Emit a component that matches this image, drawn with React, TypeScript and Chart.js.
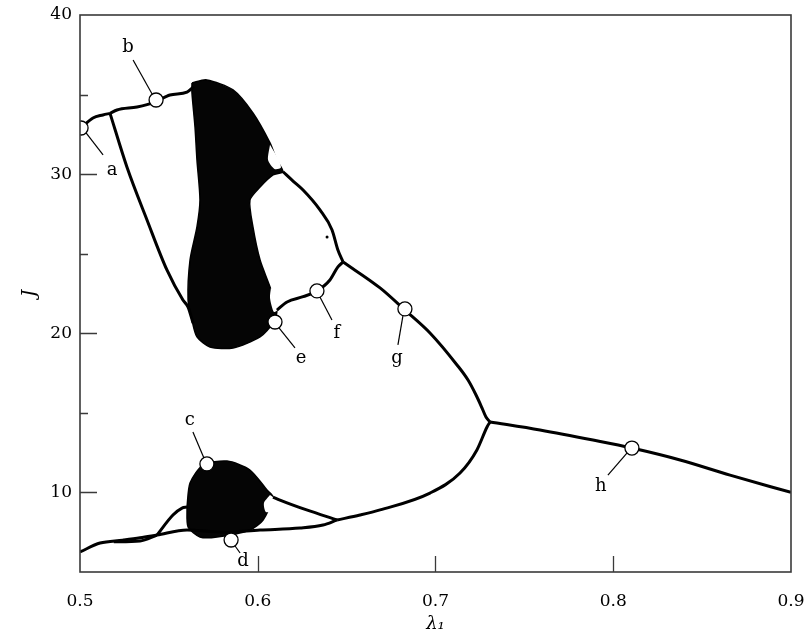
import React, { useEffect, useRef } from 'react';
import { Chart, registerables } from 'chart.js';

Chart.register(...registerables);

// ---- axis ticks ----
const xTickValues = [0.5, 0.6, 0.7, 0.8, 0.9];
const xInnerTicks = [0.6, 0.7, 0.8];
const yTickValues = [10, 20, 30, 40];
const yInnerMajor = [10, 20, 30];
const yInnerMinor = [15, 25, 35];

// ---- bifurcation branches (lambda1, J) ----
const upperStem = [[0.5006, 32.9], [0.5073, 33.53], [0.5129, 33.72], [0.5169, 33.82]];
const upperTop = [[0.5169, 33.82], [0.5208, 34.03], [0.5321, 34.22], [0.5422, 34.53], [0.5506, 34.97], [0.5602, 35.16], [0.564, 35.5]];
const upperDrop = [[0.5169, 33.82], [0.5264, 30.45], [0.5377, 27.12], [0.5489, 23.98], [0.5579, 22.09], [0.5608, 21.65], [0.5636, 20.65]];
const upperRight = [[0.6142, 30.15], [0.62, 29.55], [0.6255, 29.0], [0.635, 27.75], [0.6418, 26.49], [0.6451, 25.23], [0.648, 24.48]];
const midRight = [[0.6108, 21.46], [0.6165, 21.97], [0.6255, 22.3], [0.6333, 22.66], [0.6406, 23.35], [0.6451, 24.17], [0.648, 24.48]];
const gBranch = [[0.648, 24.48], [0.6688, 22.85], [0.6828, 21.46], [0.6969, 20.02], [0.7121, 18.01], [0.7183, 17.06], [0.7228, 16.12], [0.7262, 15.3], [0.7284, 14.74], [0.7307, 14.43]];
const hBranch = [[0.7307, 14.43], [0.7588, 13.92], [0.7886, 13.29], [0.8105, 12.79], [0.8376, 12.04], [0.8657, 11.09], [0.9, 10.0]];
const lowerRise = [[0.6446, 8.27], [0.6575, 8.58], [0.6688, 8.9], [0.6969, 9.96], [0.7138, 11.22], [0.7233, 12.67], [0.729, 14.11], [0.7307, 14.43]];
const lowerStart = [[0.5, 6.26], [0.5113, 6.82], [0.524, 7.0], [0.5338, 7.15], [0.5433, 7.32]];
const lowerLens = [[0.519, 6.9], [0.5338, 6.95], [0.5433, 7.32]];
const lowerPeak = [[0.5433, 7.32], [0.5523, 8.58], [0.5574, 9.02], [0.5602, 9.08]];
const lowerFloor = [[0.5433, 7.32], [0.5602, 7.64], [0.58, 7.5], [0.6013, 7.64], [0.6238, 7.76], [0.6367, 7.95], [0.6446, 8.27]];
const lowerUpper = [[0.6086, 9.71], [0.6125, 9.52], [0.6275, 8.9], [0.6446, 8.27]];

// ---- chaotic bands (outlines) ----
const upperChaos = [
  [0.563, 35.73], [0.5713, 35.92], [0.5861, 35.29], [0.5973, 33.84], [0.6069, 31.96], [0.6107, 30.89], [0.6142, 30.15],
  [0.6086, 29.95], [0.6013, 29.19], [0.5956, 28.37], [0.5973, 26.68], [0.6013, 24.6], [0.6069, 22.91], [0.6108, 21.46],
  [0.6086, 20.65], [0.6013, 19.77], [0.5861, 19.08], [0.5731, 19.14], [0.5658, 19.77], [0.563, 20.83], [0.5608, 22.09],
  [0.5619, 24.6], [0.5658, 26.68], [0.5675, 28.37], [0.5658, 30.89], [0.5647, 32.96], [0.563, 35.1], [0.563, 35.73],
];
const lowerChaos = [
  [0.5602, 9.08], [0.5619, 10.59], [0.5692, 11.72], [0.5827, 11.97], [0.5956, 11.41], [0.6052, 10.15], [0.6086, 9.71],
  [0.603, 8.27], [0.5956, 7.64], [0.5771, 7.2], [0.5675, 7.2], [0.5608, 7.83], [0.5602, 9.08],
];
const upperGap = [[0.6069, 31.85], [0.6118, 30.89], [0.613, 30.4], [0.6094, 30.33], [0.6058, 30.89], [0.6069, 31.85]];
const middleGap = [[0.6075, 22.91], [0.6103, 22.22], [0.6114, 21.53], [0.6091, 21.34], [0.6069, 22.22], [0.6075, 22.91]];
const lowerGap = [[0.6069, 9.84], [0.6103, 9.52], [0.6091, 8.9], [0.6046, 8.77], [0.6035, 9.34], [0.6069, 9.84]];
const strayPoints = [[0.639, 26.05]];

// ---- marked states ----
const markerNames = ['a', 'b', 'c', 'd', 'e', 'f', 'g', 'h'];
const markerPoints = [[0.5006, 32.9], [0.5428, 34.66], [0.5714, 11.79], [0.585, 7.01], [0.6097, 20.71], [0.6333, 22.66], [0.6828, 21.53], [0.8105, 12.79]];

// label leader layout (pixel offsets from marker centre): [fromX, fromY, toX, toY, textX, textY]
const leaderLayout: Record<string, number[]> = {
  a: [5, 5, 22, 27, 31, 42],
  b: [-4, -6, -23, -40, -28, -53],
  c: [-3, -6, -14, -32, -17, -44],
  d: [4, 6, 9, 13, 12, 21],
  e: [4, 6, 20, 26, 26, 36],
  f: [3, 6, 15, 29, 20, 42],
  g: [-2, 7, -7, 36, -8, 49],
  h: [-5, 5, -24, 27, -31, 38],
};

const FONT = "'DejaVu Serif', 'Liberation Serif', serif";
const toXY = (pts: number[][]) => pts.map(([x, y]) => ({ x, y }));

const curve = (pts: number[][]) => ({
  data: toXY(pts),
  showLine: true,
  pointRadius: 0,
  borderColor: '#000',
  borderWidth: 3,
  cubicInterpolationMode: 'monotone',
  fill: false,
  order: 2,
});
const region = (pts: number[][], color: string, order: number, bw: number) => ({
  data: toXY(pts),
  showLine: true,
  pointRadius: 0,
  borderColor: bw > 0 ? '#000' : 'rgba(0,0,0,0)',
  borderWidth: bw,
  backgroundColor: color,
  tension: 0.25,
  fill: 'shape',
  order,
});

const framePlugin = {
  id: 'frameTicks',
  afterDatasetsDraw(chart: any) {
    const { ctx, scales } = chart;
    const xs = scales.x, ys = scales.y;
    ctx.save();
    ctx.strokeStyle = '#000';
    ctx.lineWidth = 1.2;
    ctx.fillStyle = '#000';
    ctx.font = `18px ${FONT}`;
    ctx.textAlign = 'center';
    ctx.textBaseline = 'middle';
    markerNames.forEach((n, i) => {
      const px = xs.getPixelForValue(markerPoints[i][0]);
      const py = ys.getPixelForValue(markerPoints[i][1]);
      const L = leaderLayout[n];
      ctx.beginPath();
      ctx.moveTo(px + L[0], py + L[1]);
      ctx.lineTo(px + L[2], py + L[3]);
      ctx.stroke();
      ctx.fillText(n, px + L[4], py + L[5]);
    });
    ctx.restore();
  },
  afterDraw(chart: any) {
    const { ctx, chartArea: a, scales } = chart;
    const xs = scales.x, ys = scales.y;
    ctx.save();
    ctx.strokeStyle = '#3a3a3a';
    ctx.lineWidth = 1.6;
    ctx.strokeRect(a.left, a.top, a.right - a.left, a.bottom - a.top);
    ctx.lineWidth = 1.3;
    ctx.beginPath();
    yInnerMajor.forEach((v) => {
      const y = Math.round(ys.getPixelForValue(v)) + 0.5;
      ctx.moveTo(a.left, y);
      ctx.lineTo(a.left + 17, y);
    });
    yInnerMinor.forEach((v) => {
      const y = Math.round(ys.getPixelForValue(v)) + 0.5;
      ctx.moveTo(a.left, y);
      ctx.lineTo(a.left + 8, y);
    });
    xInnerTicks.forEach((v) => {
      const x = Math.round(xs.getPixelForValue(v)) + 0.5;
      ctx.moveTo(x, a.bottom);
      ctx.lineTo(x, a.bottom - 16);
    });
    ctx.stroke();
    ctx.restore();
  },
};

export default function App() {
  const ref = useRef<HTMLCanvasElement>(null);
  useEffect(() => {
    document.body.style.margin = '0';
    if (!ref.current) return;
    const datasets: any[] = [
      region(upperChaos, '#050505', 5, 1.5),
      region(lowerChaos, '#050505', 5, 1.5),
      region(upperGap, '#fff', 4, 0),
      region(middleGap, '#fff', 4, 0),
      region(lowerGap, '#fff', 4, 0),
      curve(upperStem),
      curve(upperTop),
      curve(upperDrop),
      curve(upperRight),
      curve(midRight),
      curve(gBranch),
      curve(hBranch),
      curve(lowerRise),
      curve(lowerStart),
      curve(lowerLens),
      curve(lowerPeak),
      curve(lowerFloor),
      curve(lowerUpper),
      {
        data: toXY(strayPoints),
        pointRadius: 1.5,
        pointBackgroundColor: '#000',
        pointBorderWidth: 0,
        showLine: false,
        order: 2,
      },
      {
        data: toXY(markerPoints),
        showLine: false,
        pointRadius: 7,
        pointBackgroundColor: '#fff',
        pointBorderColor: '#000',
        pointBorderWidth: 1.3,
        order: 0,
      },
    ];
    const chart = new Chart(ref.current, {
      type: 'scatter',
      data: { datasets },
      options: {
        animation: false,
        responsive: false,
        devicePixelRatio: 1,
        layout: { padding: { top: 15, right: 15, left: 0, bottom: 0 } },
        plugins: { legend: { display: false }, tooltip: { enabled: false } },
        scales: {
          x: {
            type: 'linear',
            min: 0.5,
            max: 0.9,
            grid: { display: false, drawTicks: false },
            border: { display: false },
            afterBuildTicks: (s: any) => { s.ticks = xTickValues.map((v) => ({ value: v })); },
            afterFit: (s: any) => { s.height = 64; s.paddingLeft = 0; s.paddingRight = 0; },
            ticks: {
              padding: 19,
              color: '#000',
              font: { family: FONT, size: 17 },
              maxRotation: 0,
              callback: (v: any) => Number(v).toFixed(1),
            },
            title: {
              display: true,
              text: 'λ₁',
              color: '#000',
              font: { family: FONT, size: 18, style: 'italic' },
              padding: { top: 0, bottom: 1 },
            },
          },
          y: {
            type: 'linear',
            min: 5,
            max: 40,
            grid: { display: false, drawTicks: false },
            border: { display: false },
            afterBuildTicks: (s: any) => { s.ticks = yTickValues.map((v) => ({ value: v })); },
            afterFit: (s: any) => { s.width = 80; s.paddingTop = 0; s.paddingBottom = 0; },
            ticks: {
              padding: 8,
              color: '#000',
              font: { family: FONT, size: 17 },
              callback: (v: any) => String(v),
            },
            title: {
              display: true,
              text: 'J',
              color: '#000',
              font: { family: FONT, size: 18, style: 'italic' },
              padding: { top: 20, bottom: 0 },
            },
          },
        },
      },
      plugins: [framePlugin],
    });
    return () => chart.destroy();
  }, []);
  return <canvas ref={ref} width={806} height={636} style={{ display: 'block' }} />;
}
